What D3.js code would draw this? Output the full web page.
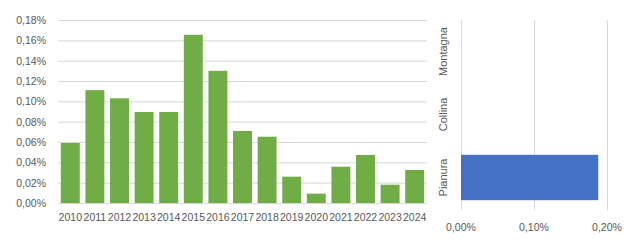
<!DOCTYPE html>
<html>
<head>
<meta charset="utf-8">
<script src="https://cdn.jsdelivr.net/npm/d3@7"></script>
<style>
  body { margin: 0; background: #fff; }
  svg text { font-family: "Liberation Sans", Arial, sans-serif; fill: #595959; }
</style>
</head>
<body>
<svg id="chart" width="630" height="240"></svg>
<script>
// data
const anni = ["2010","2011","2012","2013","2014","2015","2016","2017","2018","2019","2020","2021","2022","2023","2024"];
const valoriAnni = [0.059,0.111,0.103,0.0895,0.0895,0.1655,0.130,0.0708,0.0652,0.0259,0.0092,0.0357,0.0472,0.018,0.0325];
const yTicks = [0,0.02,0.04,0.06,0.08,0.10,0.12,0.14,0.16,0.18];

const zone = ["Montagna","Collina","Pianura"];
const valoriZone = [0,0,0.188];
const xTicks = [0,0.10,0.20];

const fmt = v => d3.format(".2f")(v).replace(".", ",") + "%";

var svg = d3.select("#chart");

// left chart - bars by year
var x = d3.scaleBand().domain(anni).range([58, 427]).paddingInner(0.23).paddingOuter(0.115);
var y = d3.scaleLinear().domain([0, 0.18]).range([203, 20]);

var sx = svg.append("g");
sx.selectAll("line.grid").data(yTicks).enter().append("line")
  .attr("x1", 58).attr("x2", 427)
  .attr("y1", d => y(d) + 0.5).attr("y2", d => y(d) + 0.5)
  .attr("stroke", "#d9d9d9").attr("stroke-width", 1);

sx.selectAll("text.yl").data(yTicks).enter().append("text")
  .attr("x", 46).attr("y", d => y(d) + 4)
  .attr("text-anchor", "end").style("font-size", "10.5px")
  .text(fmt);

sx.selectAll("rect").data(valoriAnni).enter().append("rect")
  .attr("x", (d, i) => x(anni[i]))
  .attr("width", x.bandwidth())
  .attr("y", d => y(d))
  .attr("height", d => y(0) - y(d))
  .attr("fill", "#70ad47");

sx.selectAll("text.xl").data(anni).enter().append("text")
  .attr("x", d => x(d) + x.bandwidth() / 2).attr("y", 221)
  .attr("text-anchor", "middle").style("font-size", "10.5px")
  .text(d => d);

// right chart - horizontal bars by zone
var x2 = d3.scaleLinear().domain([0, 0.20]).range([461, 607]);
var y2 = d3.scaleBand().domain(zone).range([20, 209]).paddingInner(0.28).paddingOuter(0.14);

var dx = svg.append("g");
dx.selectAll("line").data(xTicks).enter().append("line")
  .attr("x1", d => x2(d) + 0.5).attr("x2", d => x2(d) + 0.5)
  .attr("y1", 20).attr("y2", 210)
  .attr("stroke", "#d9d9d9");

dx.selectAll("rect").data(valoriZone).enter().append("rect")
  .attr("x", x2(0))
  .attr("y", (d, i) => y2(zone[i]))
  .attr("height", y2.bandwidth())
  .attr("width", d => x2(d) - x2(0))
  .attr("fill", "#4472c4");

dx.selectAll("text.xl").data(xTicks).enter().append("text")
  .attr("x", d => x2(d)).attr("y", 231)
  .attr("text-anchor", "middle").style("font-size", "10.5px")
  .text(fmt);

dx.selectAll("text.yl").data(zone).enter().append("text")
  .attr("transform", d => "translate(447," + (y2(d) + y2.bandwidth() / 2) + ") rotate(-90)")
  .attr("text-anchor", "middle").style("font-size", "11px")
  .text(d => d);
</script>
</body>
</html>
